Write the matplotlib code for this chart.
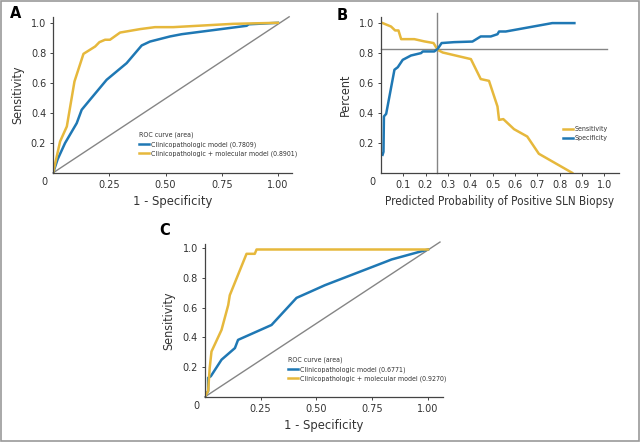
import matplotlib.pyplot as plt
from matplotlib.patches import Rectangle

# panel A: ROC curves
a_clin_x = [0, 0.02, 0.053, 0.105, 0.127, 0.164, 0.238, 0.327, 0.394, 0.431, 0.52, 0.572, 0.861, 0.87, 1.0]
a_clin_y = [0, 0.09, 0.198, 0.331, 0.42, 0.487, 0.62, 0.731, 0.849, 0.875, 0.909, 0.924, 0.98, 0.99, 1.0]
a_mol_x = [0, 0.031, 0.061, 0.095, 0.135, 0.187, 0.206, 0.231, 0.253, 0.298, 0.387, 0.453, 0.534, 0.80, 1.0]
a_mol_y = [0, 0.209, 0.309, 0.609, 0.793, 0.842, 0.871, 0.887, 0.887, 0.935, 0.958, 0.971, 0.971, 0.993, 1.0]

# panel B: sensitivity / specificity vs predicted probability
b_sens_x = [0.005, 0.046, 0.064, 0.079, 0.091, 0.15, 0.195, 0.236, 0.254, 0.277, 0.403, 0.447, 0.484,
            0.522, 0.529, 0.548, 0.596, 0.655, 0.707, 0.856]
b_sens_y = [1.0, 0.975, 0.949, 0.949, 0.891, 0.891, 0.876, 0.865, 0.82, 0.802, 0.758, 0.625, 0.613,
            0.442, 0.353, 0.358, 0.291, 0.242, 0.127, 0.0]
b_spec_x = [0.008, 0.012, 0.014, 0.024, 0.061, 0.076, 0.098, 0.135, 0.18, 0.188, 0.239, 0.254, 0.272,
            0.328, 0.41, 0.447, 0.492, 0.522, 0.529, 0.559, 0.767, 0.866]
b_spec_y = [0.12, 0.14, 0.376, 0.393, 0.687, 0.704, 0.753, 0.782, 0.798, 0.809, 0.809, 0.825, 0.865,
            0.871, 0.875, 0.909, 0.909, 0.924, 0.942, 0.942, 0.998, 0.998]
b_cut_x = 0.25
b_cut_y = 0.825

# panel C: ROC curves, validation
c_clin_x = [0, 0.015, 0.015, 0.027, 0.075, 0.135, 0.149, 0.299, 0.411, 0.471, 0.538, 0.815, 0.837, 1.0]
c_clin_y = [0, 0.04, 0.128, 0.139, 0.25, 0.328, 0.383, 0.483, 0.665, 0.705, 0.75, 0.91, 0.923, 0.99]
c_mol_x = [0, 0.015, 0.022, 0.03, 0.075, 0.105, 0.112, 0.187, 0.224, 0.232, 1.0]
c_mol_y = [0, 0.04, 0.195, 0.305, 0.45, 0.617, 0.683, 0.961, 0.961, 0.99, 0.99]

roc_ticks = [0.25, 0.50, 0.75, 1.00]
roc_labels = ['0.25', '0.50', '0.75', '1.00']
prob_ticks = [0.1, 0.2, 0.3, 0.4, 0.5, 0.6, 0.7, 0.8, 0.9, 1.0]
y_ticks = [0.2, 0.4, 0.6, 0.8, 1.0]

BLUE = '#1f78b4'
GOLD = '#e6b83c'
GREY = '#858585'
AXC = '#444444'
TXT = '#333333'
COND = {'family': 'DejaVu Sans', 'stretch': 'condensed'}


def style_axes(ax, xlim, ylim, xticks, xlabels, xlabel, ylabel, xsize=9.3):
    ax.set_xlim(*xlim)
    ax.set_ylim(*ylim)
    for s in ['top', 'right']:
        ax.spines[s].set_visible(False)
    for s in ['left', 'bottom']:
        ax.spines[s].set_color(AXC)
        ax.spines[s].set_linewidth(0.9)
    ax.set_xticks(xticks)
    ax.set_xticklabels(xlabels)
    ax.set_yticks(y_ticks)
    ax.set_yticklabels(['%.1f' % v for v in y_ticks])
    ax.tick_params(length=2.5, width=0.7, color=AXC, labelsize=7, labelcolor=TXT, pad=2.5)
    ax.set_xlabel(xlabel, fontsize=xsize, color=TXT, labelpad=4, fontstretch='condensed')
    ax.set_ylabel(ylabel, fontsize=9, color=TXT, labelpad=5, fontstretch='condensed')
    ax.text(-0.035, -0.028, '0', transform=ax.transAxes, ha='center', va='top',
            fontsize=7, color=TXT)


def small_legend(ax, anchor, title=None):
    kw = {}
    if title:
        kw = dict(title=title, title_fontproperties=dict(COND, size=5), alignment='left')
    leg = ax.legend(loc='upper left', bbox_to_anchor=anchor, frameon=False, borderpad=0,
                    borderaxespad=0, handlelength=1.4, handletextpad=0.35, labelspacing=0.45,
                    prop=dict(COND, size=5), **kw)
    for t in leg.get_texts():
        t.set_color(TXT)
    if title:
        leg.get_title().set_color(TXT)
    return leg


fig = plt.figure(figsize=(6.4, 4.42), dpi=100)
fig.patches.append(Rectangle((0.002, 0.003), 0.996, 0.994, transform=fig.transFigure,
                             fill=False, edgecolor='#999999', linewidth=1.2))

# A
axA = fig.add_axes([0.083, 0.609, 0.373, 0.353])
axA.plot([0, 1.05], [0, 1.04], color=GREY, lw=1.0, clip_on=False)
axA.plot(a_clin_x, a_clin_y, color=BLUE, lw=1.8, label='Clinicopathologic model (0.7809)')
axA.plot(a_mol_x, a_mol_y, color=GOLD, lw=1.8, label='Clinicopathologic + molecular model (0.8901)')
style_axes(axA, (0, 1.062), (0, 1.04), roc_ticks, roc_labels, '1 - Specificity', 'Sensitivity')
small_legend(axA, (0.36, 0.265), 'ROC curve (area)')

# B
axB = fig.add_axes([0.595, 0.609, 0.372, 0.353])
axB.plot([b_cut_x, b_cut_x], [0, 1.067], color=GREY, lw=1.0, clip_on=False)
axB.plot([0, 1.01], [b_cut_y, b_cut_y], color=GREY, lw=1.0, clip_on=False)
axB.plot(b_sens_x, b_sens_y, color=GOLD, lw=1.8, label='Sensitivity')
axB.plot(b_spec_x, b_spec_y, color=BLUE, lw=1.8, label='Specificity')
style_axes(axB, (0, 1.065), (0, 1.04), prob_ticks, ['%.1f' % v for v in prob_ticks],
           'Predicted Probability of Positive SLN Biopsy', 'Percent', xsize=8.4)
small_legend(axB, (0.765, 0.30))

# C
axC = fig.add_axes([0.320, 0.102, 0.372, 0.346])
axC.plot([0, 1.054], [0, 1.04], color=GREY, lw=1.0, clip_on=False)
axC.plot(c_clin_x, c_clin_y, color=BLUE, lw=1.8, label='Clinicopathologic model (0.6771)')
axC.plot(c_mol_x, c_mol_y, color=GOLD, lw=1.8, label='Clinicopathologic + molecular model (0.9270)')
style_axes(axC, (0, 1.067), (0, 1.027), roc_ticks, roc_labels, '1 - Specificity', 'Sensitivity')
small_legend(axC, (0.35, 0.265), 'ROC curve (area)')

# panel letters
fig.text(10 / 640, 1 - 13 / 442, 'A', fontsize=10.5, fontweight='bold', ha='left', va='center')
fig.text(337 / 640, 1 - 15 / 442, 'B', fontsize=10.5, fontweight='bold', ha='left', va='center')
fig.text(159 / 640, 1 - 230 / 442, 'C', fontsize=10.5, fontweight='bold', ha='left', va='center')

fig.savefig('out.png', dpi=100)
